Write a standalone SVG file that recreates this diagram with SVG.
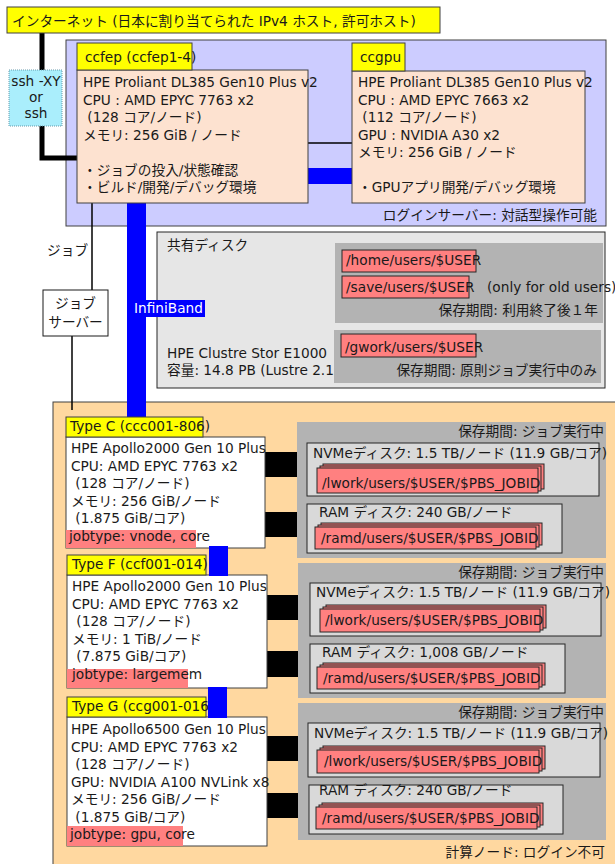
<svg xmlns="http://www.w3.org/2000/svg" width="615" height="864" viewBox="0 0 615 864">
<style>
text{font-family:"DejaVu Sans","Noto Sans CJK JP",sans-serif;font-size:13.7px;fill:#1a1a1a;white-space:pre}
.e{text-anchor:end}
.m{text-anchor:middle}
.b{stroke:#404040;stroke-width:1}
.yel{fill:#ffff00;stroke:#404040;stroke-width:1}
.red{fill:#ff8080;stroke:#262626;stroke-width:1}
.dg{fill:#b3b3b3}
.lg{fill:#d9d9d9;stroke:#262626;stroke-width:1}
.wh{fill:#ffffff;stroke:#404040;stroke-width:1}
.ib{fill:#0000ff}
.blk{fill:#000000}
</style>
<rect width="615" height="864" fill="#ffffff"/>

<!-- regions -->
<g id="login-region">
<rect x="66" y="40" width="540" height="186" fill="#ccccff" class="b"/>
<text class="e" x="597" y="220">ログインサーバー: 対話型操作可能</text>
</g>
<g id="compute-region">
<rect x="53" y="402" width="570" height="470" fill="#ffd8a0" class="b"/>
<text class="e" x="605" y="857">計算ノード: ログイン不可</text>
</g>

<!-- connectors -->
<g id="connectors">
<path d="M42,33 V72 M42,125 V158 H77" fill="none" stroke="#000" stroke-width="5"/>
<line x1="308" y1="143" x2="352" y2="143" stroke="#000" stroke-width="1.5"/>
<rect class="ib" x="308" y="168" width="44" height="16"/>
<rect class="ib" x="127" y="203" width="19" height="215"/>
<line x1="92" y1="203" x2="92" y2="290" stroke="#000" stroke-width="1.5"/>
<line x1="72" y1="336" x2="72" y2="410" stroke="#000" stroke-width="1.5"/>
<rect class="blk" x="265" y="452" width="33" height="25"/>
<rect class="blk" x="265" y="512" width="33" height="25"/>
<rect class="blk" x="267" y="595" width="33" height="25"/>
<rect class="blk" x="267" y="651" width="33" height="26"/>
<rect class="blk" x="267" y="736" width="33" height="25"/>
<rect class="blk" x="267" y="793" width="33" height="25"/>
</g>

<g id="internet">
<rect class="yel" x="7" y="7" width="433" height="26"/>
<text x="12" y="26">インターネット (日本に割り当てられた IPv4 ホスト, 許可ホスト)</text>
</g>

<g id="ssh">
<rect x="9" y="70" width="53" height="56" fill="#aaeefc" stroke="#6699aa" stroke-width="1" stroke-dasharray="1,1"/>
<text class="m" x="36" y="86">ssh -XY</text>
<text class="m" x="36" y="102">or</text>
<text class="m" x="36" y="118">ssh</text>
</g>

<g id="ccfep">
<rect x="77" y="70" width="231" height="133" fill="#fde2d0" class="b"/>
<rect class="yel" x="77" y="43" width="115" height="27"/>
<text x="85" y="62">ccfep (ccfep1-4)</text>
<text x="83" y="87">HPE Proliant DL385 Gen10 Plus v2</text>
<text x="83" y="104.5">CPU : AMD EPYC 7763 x2</text>
<text x="83" y="122"> (128 コア/ノード)</text>
<text x="83" y="139.5">メモリ: 256 GiB / ノード</text>
<text x="83" y="174.5">・ジョブの投入/状態確認</text>
<text x="83" y="192">・ビルド/開発/デバッグ環境</text>
</g>

<g id="ccgpu">
<rect x="352" y="71" width="233" height="132" fill="#fde2d0" class="b"/>
<rect class="yel" x="352" y="43" width="53" height="28"/>
<text x="360" y="62">ccgpu</text>
<text x="358" y="87">HPE Proliant DL385 Gen10 Plus v2</text>
<text x="358" y="104.5">CPU : AMD EPYC 7663 x2</text>
<text x="358" y="122"> (112 コア/ノード)</text>
<text x="358" y="139.5">GPU : NVIDIA A30 x2</text>
<text x="358" y="157">メモリ: 256 GiB / ノード</text>
<text x="358" y="192">・GPUアプリ開発/デバッグ環境</text>
</g>

<g id="job-label">
<text x="47" y="255">ジョブ</text>
</g>

<g id="job-server">
<rect x="43" y="290" width="65" height="46" fill="#ffffff" stroke="#1a1a1a" stroke-width="1"/>
<text class="m" x="75.5" y="308">ジョブ</text>
<text class="m" x="75.5" y="327">サーバー</text>
</g>

<g id="shared-disk">
<rect x="157" y="232" width="448" height="156" fill="#e6e6e6" stroke="#262626" stroke-width="1"/>
<text x="167" y="250">共有ディスク</text>
<text x="167" y="358">HPE Clustre Stor E1000</text>
<text x="167" y="375">容量: 14.8 PB (Lustre 2.1</text>
<rect class="dg" x="335" y="243" width="268" height="80"/>
<rect class="red" x="342" y="250" width="134" height="22"/>
<text x="346" y="265">/home/users/$USER</text>
<rect class="red" x="342" y="276" width="127" height="22"/>
<text x="346" y="292">/save/users/$USER</text>
<text x="487" y="292">(only for old users)</text>
<text class="e" x="598" y="315">保存期間: 利用終了後１年</text>
<rect class="dg" x="334" y="330" width="267" height="53"/>
<rect class="red" x="341" y="334" width="135" height="23"/>
<text x="345" y="352">/gwork/users/$USER</text>
<text class="e" x="597" y="375">保存期間: 原則ジョブ実行中のみ</text>
</g>

<g id="infiniband-label">
<rect class="ib" x="133" y="300" width="72" height="17"/>
<text x="134" y="313" style="fill:#ffffff">InfiniBand</text>
</g>

<g id="type-c">
<rect class="wh" x="66" y="437" width="199" height="111"/>
<rect class="yel" x="66" y="417" width="137" height="20"/>
<text x="70" y="431">Type C (ccc001-806)</text>
<text x="71" y="453">HPE Apollo2000 Gen 10 Plus</text>
<text x="71" y="470.5">CPU: AMD EPYC 7763 x2</text>
<text x="71" y="488"> (128 コア/ノード)</text>
<text x="71" y="505.5">メモリ: 256 GiB/ノード</text>
<text x="71" y="523"> (1.875 GiB/コア)</text>
<rect fill="#ff8080" x="66" y="530" width="130" height="18"/>
<text x="69" y="540.5">jobtype: vnode, core</text>
</g>

<g id="disk-c">
<rect class="dg" x="297" y="422" width="309" height="136"/>
<text class="e" x="604" y="436">保存期間: ジョブ実行中</text>
<rect class="lg" x="307" y="443" width="292" height="53"/>
<text x="313" y="458">NVMeディスク: 1.5 TB/ノード (11.9 GB/コア)</text>
<rect class="red" x="323" y="464" width="221" height="25"/>
<rect class="red" x="320" y="466" width="221" height="25"/>
<rect class="red" x="317" y="468" width="221" height="25"/>
<text x="322" y="488">/lwork/users/$USER/$PBS_JOBID</text>
<rect class="lg" x="307" y="504" width="255" height="49"/>
<text x="319" y="517">RAM ディスク: 240 GB/ノード</text>
<rect class="red" x="321" y="523" width="221" height="22"/>
<rect class="red" x="318" y="525" width="221" height="22"/>
<rect class="red" x="315" y="527" width="221" height="22"/>
<text x="321" y="543">/ramd/users/$USER/$PBS_JOBID</text>
</g>

<g id="type-f">
<rect class="wh" x="67" y="575" width="200" height="113"/>
<rect class="yel" x="67" y="555" width="139" height="20"/>
<text x="72" y="569">Type F (ccf001-014)</text>
<text x="72" y="591">HPE Apollo2000 Gen 10 Plus</text>
<text x="72" y="608.5">CPU: AMD EPYC 7763 x2</text>
<text x="72" y="626"> (128 コア/ノード)</text>
<text x="72" y="643.5">メモリ: 1 TiB/ノード</text>
<text x="72" y="661"> (7.875 GiB/コア)</text>
<rect fill="#ff8080" x="67" y="669" width="121" height="19"/>
<text x="72" y="678.5">jobtype: largemem</text>
</g>

<g id="disk-f">
<rect class="dg" x="298" y="563" width="308" height="135"/>
<text class="e" x="604" y="577">保存期間: ジョブ実行中</text>
<rect class="lg" x="310" y="583" width="291" height="53"/>
<text x="316" y="597">NVMeディスク: 1.5 TB/ノード (11.9 GB/コア)</text>
<rect class="red" x="326" y="605" width="220" height="23"/>
<rect class="red" x="323" y="607" width="220" height="23"/>
<rect class="red" x="320" y="609" width="220" height="23"/>
<text x="325" y="625">/lwork/users/$USER/$PBS_JOBID</text>
<rect class="lg" x="310" y="644" width="255" height="49"/>
<text x="322" y="657">RAM ディスク: 1,008 GB/ノード</text>
<rect class="red" x="323" y="663" width="222" height="22"/>
<rect class="red" x="320" y="665" width="222" height="22"/>
<rect class="red" x="317" y="667" width="222" height="22"/>
<text x="323" y="683">/ramd/users/$USER/$PBS_JOBID</text>
</g>

<g id="type-g">
<rect class="wh" x="67" y="717" width="200" height="129"/>
<rect class="yel" x="67" y="697" width="139" height="20"/>
<text x="72" y="711">Type G (ccg001-016)</text>
<text x="71" y="734">HPE Apollo6500 Gen 10 Plus</text>
<text x="71" y="751.5">CPU: AMD EPYC 7763 x2</text>
<text x="71" y="769"> (128 コア/ノード)</text>
<text x="71" y="786.5">GPU: NVIDIA A100 NVLink x8</text>
<text x="71" y="804">メモリ: 256 GiB/ノード</text>
<text x="71" y="821.5"> (1.875 GiB/コア)</text>
<rect fill="#ff8080" x="67" y="826" width="116" height="20"/>
<text x="70" y="839">jobtype: gpu, core</text>
</g>

<g id="disk-g">
<rect class="dg" x="298" y="703" width="308" height="137"/>
<text class="e" x="604" y="717">保存期間: ジョブ実行中</text>
<rect class="lg" x="308" y="723" width="292" height="54"/>
<text x="314" y="738">NVMeディスク: 1.5 TB/ノード (11.9 GB/コア)</text>
<rect class="red" x="323" y="746" width="222" height="23"/>
<rect class="red" x="320" y="748" width="222" height="23"/>
<rect class="red" x="317" y="750" width="222" height="23"/>
<text x="324" y="766">/lwork/users/$USER/$PBS_JOBID</text>
<rect class="lg" x="309" y="785" width="254" height="49"/>
<text x="319" y="795">RAM ディスク: 240 GB/ノード</text>
<rect class="red" x="322" y="803" width="221" height="22"/>
<rect class="red" x="319" y="805" width="221" height="22"/>
<rect class="red" x="316" y="807" width="221" height="22"/>
<text x="322" y="823">/ramd/users/$USER/$PBS_JOBID</text>
</g>

<g id="ib-overlay">
<rect class="ib" x="209" y="546" width="19" height="30"/>
<rect class="ib" x="208" y="687" width="19" height="31"/>
</g>
</svg>
